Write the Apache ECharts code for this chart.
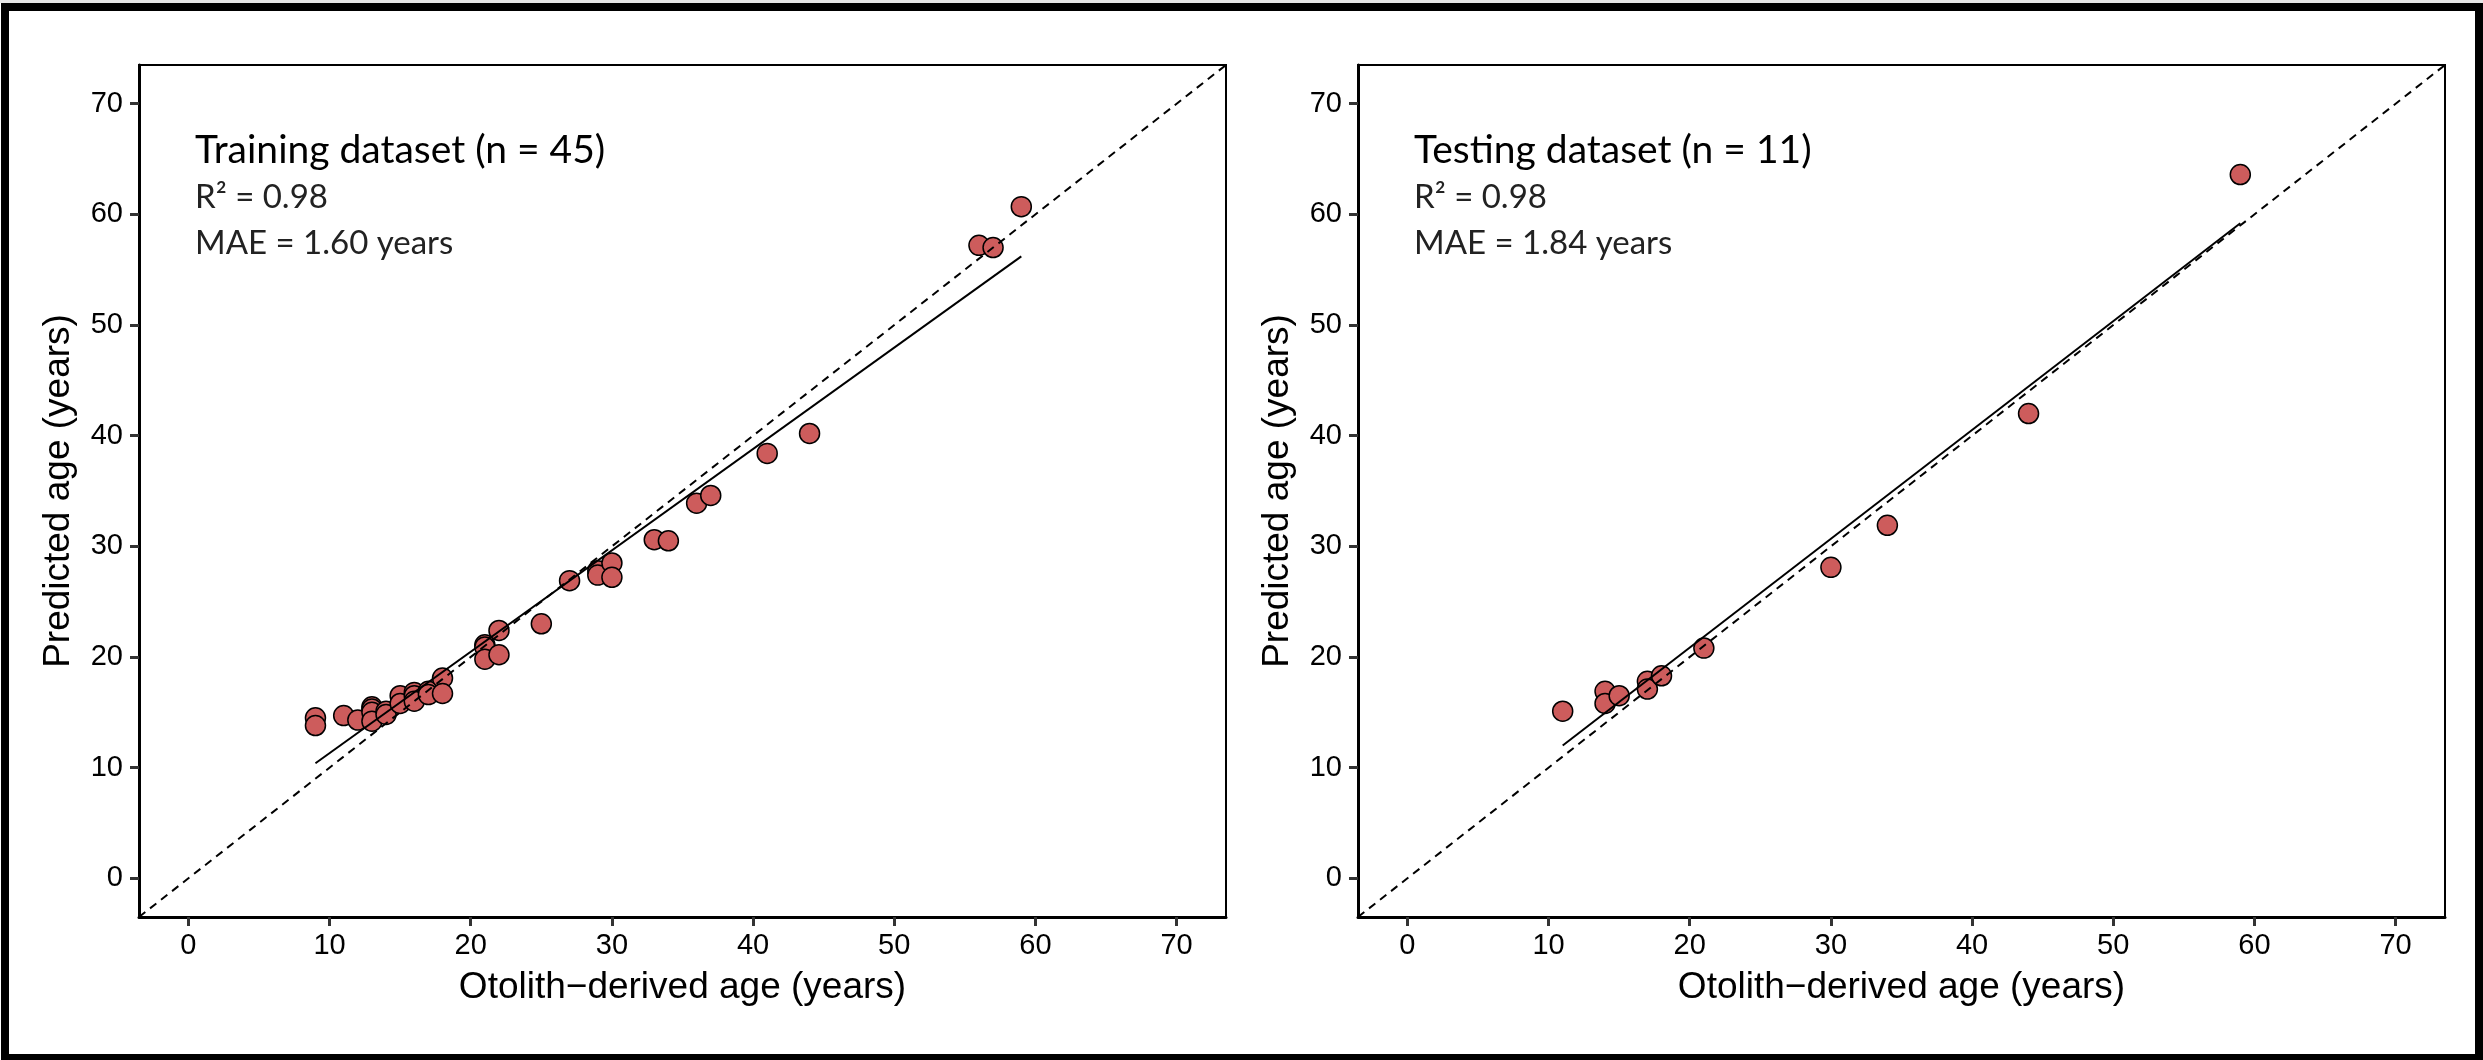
<!DOCTYPE html>
<html>
<head>
<meta charset="utf-8">
<script src="https://cdn.jsdelivr.net/npm/echarts@6/dist/echarts.min.js"></script>
<style>html,body{margin:0;padding:0;background:#fff}#c{width:2483px;height:1060px}</style>
</head>
<body>
<div id="c"></div>
<script>
// ---- data ----
const tickValues = [0, 10, 20, 30, 40, 50, 60, 70];
const axisRange = [-3.5, 73.5];

const trainObserved  = [9, 9, 11, 12, 13, 13, 13, 13, 14, 14, 15, 15, 16, 16, 16, 17, 17, 18, 18, 21, 21, 21, 22, 22, 25, 27, 29, 29, 30, 30, 33, 34, 36, 37, 41, 44, 56, 57, 59];
const trainPredicted = [14.5, 13.8, 14.7, 14.3, 15.5, 15.3, 15.0, 14.2, 15.1, 14.8, 16.5, 15.8, 16.8, 16.5, 16.0, 16.9, 16.6, 18.1, 16.7, 21.1, 20.9, 19.8, 22.4, 20.2, 23.0, 26.9, 27.8, 27.4, 28.5, 27.2, 30.6, 30.5, 33.9, 34.6, 38.4, 40.2, 57.2, 57.0, 60.7];
const trainFitX = [9, 59];
const trainFitY = [10.4, 56.2];

const testObserved  = [11, 14, 14, 15, 17, 17, 18, 21, 30, 34, 44, 59];
const testPredicted = [15.1, 16.9, 15.8, 16.5, 17.8, 17.1, 18.3, 20.8, 28.1, 31.9, 42.0, 63.6];
const testFitX = [11, 59];
const testFitY = [12.0, 59.2];

const panelTitles = ['Training dataset (n = 45)', 'Testing dataset (n = 11)'];
const panelR2 = ['R\u00B2 = 0.98', 'R\u00B2 = 0.98'];
const panelMAE = ['MAE = 1.60 years', 'MAE = 1.84 years'];
const xTitle = 'Otolith\u2212derived age (years)';
const yTitle = 'Predicted age (years)';

// ---- chart ----
const F = 'Liberation Sans, Arial, sans-serif';
const AF = 'Lato, Open Sans, sans-serif';
const pair = (xs, ys) => xs.map((x, i) => [x, ys[i]]);

function xAx(i) {
  return {
    gridIndex: i, type: 'value', min: axisRange[0], max: axisRange[1],
    name: xTitle, nameLocation: 'middle', nameGap: 52,
    nameTextStyle: { fontSize: 37, color: '#000', fontFamily: F },
    axisLine: { show: true, onZero: false, lineStyle: { color: '#000', width: 3 } },
    axisTick: { show: true, length: 9, customValues: tickValues, lineStyle: { color: '#333', width: 3 } },
    axisLabel: { customValues: tickValues, fontSize: 29, color: '#000', fontFamily: F, margin: 14 },
    splitLine: { show: false }
  };
}
function yAx(i) {
  return {
    gridIndex: i, type: 'value', min: axisRange[0], max: axisRange[1],
    name: yTitle, nameLocation: 'middle', nameGap: 62,
    nameTextStyle: { fontSize: 37, color: '#000', fontFamily: F },
    axisLine: { show: true, onZero: false, lineStyle: { color: '#000', width: 3 } },
    axisTick: { show: true, length: 9, customValues: tickValues, lineStyle: { color: '#333', width: 3 } },
    axisLabel: { customValues: tickValues, fontSize: 29, color: '#000', fontFamily: F, margin: 16 },
    splitLine: { show: false }
  };
}
function pointSeries(i, xs, ys) {
  return {
    type: 'scatter', xAxisIndex: i, yAxisIndex: i, data: pair(xs, ys),
    symbolSize: 20, z: 2, silent: true,
    itemStyle: { color: '#cd5c5c', borderColor: '#000', borderWidth: 1.5, opacity: 1 }
  };
}
function identitySeries(i) {
  return {
    type: 'line', xAxisIndex: i, yAxisIndex: i, data: pair(axisRange, axisRange),
    symbol: 'none', z: 3, silent: true, clip: true,
    lineStyle: { color: '#000', width: 2, type: [8, 6] }
  };
}
function fitSeries(i, xs, ys) {
  return {
    type: 'line', xAxisIndex: i, yAxisIndex: i, data: pair(xs, ys),
    symbol: 'none', z: 3, silent: true,
    lineStyle: { color: '#000', width: 2 }
  };
}

const gridLeft = [139, 1358];
const graphics = [
  { type: 'rect', shape: { x: 0, y: 0, width: 2483, height: 3 }, style: { fill: '#e6e6e6' }, silent: true },
  { type: 'rect', shape: { x: 5, y: 7, width: 2474, height: 1051 }, style: { fill: null, stroke: '#000', lineWidth: 8 }, silent: true }
];
for (let i = 0; i < 2; i++) {
  const tx = gridLeft[i] + 56;
  graphics.push({ type: 'text', x: tx, y: 150, silent: true,
    style: { text: panelTitles[i], font: '39px ' + AF, fill: '#000', verticalAlign: 'middle', align: 'left' } });
  graphics.push({ type: 'text', x: tx, y: 197, silent: true,
    style: { text: panelR2[i], font: '33px ' + AF, fill: '#222', verticalAlign: 'middle', align: 'left' } });
  graphics.push({ type: 'text', x: tx, y: 243, silent: true,
    style: { text: panelMAE[i], font: '33px ' + AF, fill: '#222', verticalAlign: 'middle', align: 'left' } });
}

const option = {
  animation: false,
  backgroundColor: '#fff',
  grid: gridLeft.map(l => ({ left: l, top: 65, width: 1087, height: 852, show: true, borderColor: '#000', borderWidth: 2, backgroundColor: 'transparent' })),
  xAxis: [xAx(0), xAx(1)],
  yAxis: [yAx(0), yAx(1)],
  series: [
    pointSeries(0, trainObserved, trainPredicted),
    identitySeries(0),
    fitSeries(0, trainFitX, trainFitY),
    pointSeries(1, testObserved, testPredicted),
    identitySeries(1),
    fitSeries(1, testFitX, testFitY)
  ],
  graphic: graphics
};

const chart = echarts.init(document.getElementById('c'), null, { renderer: 'canvas' });
chart.setOption(option);
</script>
</body>
</html>
